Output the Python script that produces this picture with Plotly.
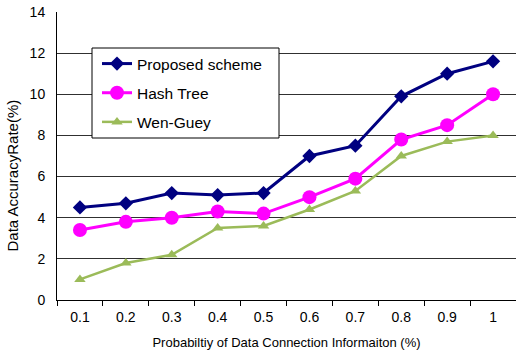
import plotly.graph_objects as go

categories = ["0.1", "0.2", "0.3", "0.4", "0.5", "0.6", "0.7", "0.8", "0.9", "1"]
proposed = [4.5, 4.7, 5.2, 5.1, 5.2, 7.0, 7.5, 9.9, 11.0, 11.6]
hash_tree = [3.4, 3.8, 4.0, 4.3, 4.2, 5.0, 5.9, 7.8, 8.5, 10.0]
wen_guey = [1.0, 1.8, 2.2, 3.5, 3.6, 4.4, 5.3, 7.0, 7.7, 8.0]
y_ticks = [0, 2, 4, 6, 8, 10, 12, 14]

font = "Liberation Sans, Arial, sans-serif"
W, H = 516, 352
L, R, T, B = 57, 0, 12, 52
pw, ph = W - L - R, H - T - B

def px_x(x):
    return (x - L) / pw

def px_y(y):
    return (H - B - y) / ph

fig = go.Figure()
fig.add_trace(go.Scatter(x=categories, y=proposed, name="Proposed scheme", mode="lines+markers",
                         line=dict(color="#000080", width=3),
                         marker=dict(symbol="diamond", size=11, color="#000080"),
                         legendgroup="a"))
fig.add_trace(go.Scatter(x=categories, y=hash_tree, name="Hash Tree", mode="lines+markers",
                         line=dict(color="#FF00FF", width=3),
                         marker=dict(symbol="circle", size=14, color="#FF00FF"),
                         legendgroup="b"))
fig.add_trace(go.Scatter(x=categories, y=wen_guey, name="Wen-Guey", mode="lines+markers",
                         line=dict(color="#9BBB59", width=2.5),
                         marker=dict(symbol="triangle-up", size=10, color="#9BBB59"),
                         legendgroup="c"))

fig.add_shape(type="rect", xref="paper", yref="paper",
              x0=px_x(92), x1=px_x(279), y0=px_y(138), y1=px_y(48),
              line=dict(color="black", width=1), fillcolor="white", layer="above")

fig.add_annotation(text="Data AccuracyRate(%)", xref="paper", yref="paper",
                   x=px_x(12), y=px_y(175.5), xanchor="center", yanchor="middle",
                   textangle=-90, showarrow=False, font=dict(size=15, family=font))

fig.update_layout(
    width=W, height=H,
    margin=dict(l=L, r=R, t=T, b=B),
    paper_bgcolor="white", plot_bgcolor="white",
    font=dict(family=font, size=13, color="black"),
    showlegend=True,
    legend=dict(x=px_x(97), y=px_y(47), xanchor="left", yanchor="top",
                bgcolor="rgba(0,0,0,0)", borderwidth=0,
                font=dict(size=15.5, family=font), tracegroupgap=6),
    xaxis=dict(type="category", range=[-0.5, 9.5], tickson="boundaries",
               ticks="outside", ticklen=5, tickcolor="black", automargin=False,
               showline=True, linecolor="black", linewidth=1, showgrid=False,
               tickfont=dict(size=14), ticklabelstandoff=4,
               title=dict(text="Probabiltiy of Data Connection Informaiton (%)",
                          font=dict(size=13), standoff=14)),
    yaxis=dict(range=[0, 14], tickvals=y_ticks, showline=True, linecolor="black", linewidth=1,
               showgrid=True, gridcolor="#303030", gridwidth=1, zeroline=False, automargin=False,
               ticks="", tickfont=dict(size=14), ticklabelstandoff=8),
)

fig.write_html("out.html", config={"displayModeBar": False},
               post_script="document.body.style.margin='0';")
